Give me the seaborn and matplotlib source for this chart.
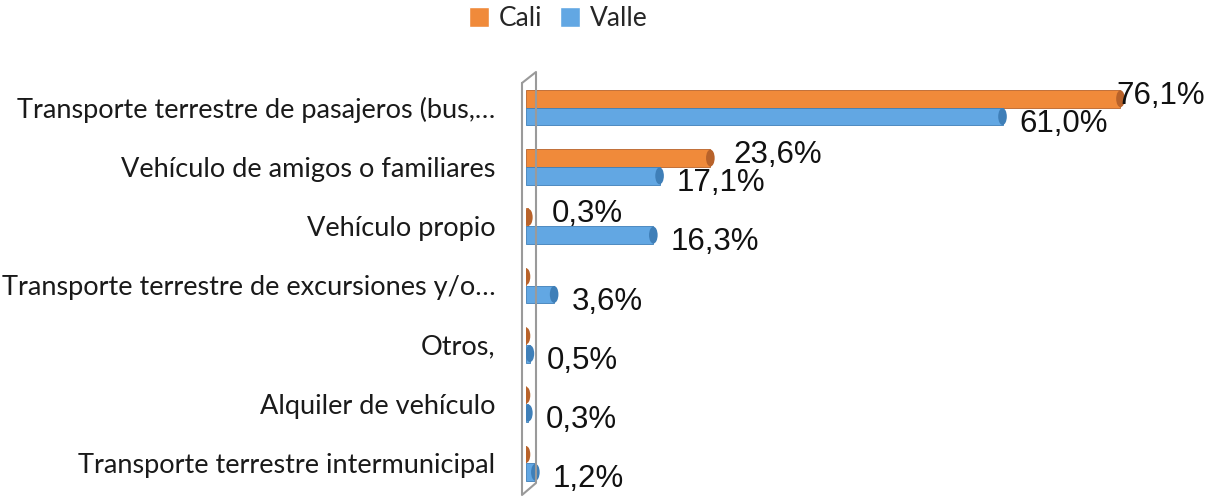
import pandas as pd
import numpy as np
import matplotlib
matplotlib.use("Agg")
import matplotlib.pyplot as plt
import seaborn as sns
from matplotlib.patches import Ellipse, Patch
from matplotlib.lines import Line2D

categorias = [
    "Transporte terrestre de pasajeros (bus,…",
    "Vehículo de amigos o familiares",
    "Vehículo propio",
    "Transporte terrestre de excursiones y/o…",
    "Otros,",
    "Alquiler de vehículo",
    "Transporte terrestre intermunicipal",
]
cali = [76.1, 23.6, 0.3, 0.0, 0.0, 0.0, 0.0]
valle = [61.0, 17.1, 16.3, 3.6, 0.5, 0.3, 1.2]
series = ["Cali", "Valle"]
colores = {"Cali": "#F08A3A", "Valle": "#62A7E3"}
bordes = {"Cali": "#B8622A", "Valle": "#3F7FB8"}

df = pd.DataFrame({
    "categoria": categorias * 2,
    "serie": ["Cali"] * len(cali) + ["Valle"] * len(valle),
    "valor": cali + valle,
})

sns.set_theme(style="white")
plt.rcParams["font.family"] = ["Lato", "DejaVu Sans"]

fig = plt.figure(figsize=(12.06, 4.97), dpi=100)
W, H = 1206, 497
ax = fig.add_axes([526 / W, (H - 493) / H, 664 / W, 415 / H])

sns.barplot(data=df, x="valor", y="categoria", hue="serie", order=categorias,
            hue_order=series, palette=colores, orient="h", width=0.6,
            dodge=True, ax=ax, legend=False, saturation=1)

ax.set_xlim(0, 85)
ax.set_ylim(6.5, -0.5)
for s in ax.spines.values():
    s.set_visible(False)
ax.set_xticks([])
ax.set_xlabel("")
ax.set_ylabel("")
ax.tick_params(axis="y", length=0, pad=22, labelsize=19.5, labelcolor="#1a1a1a")

# end caps + labels
for cont, serie in zip(ax.containers, series):
    for bar, v in zip(cont, cont.datavalues):
        y0, h = bar.get_y(), bar.get_height()
        yc = y0 + h / 2
        bar.set_edgecolor(bordes[serie])
        bar.set_linewidth(0.6)
        cap = Ellipse((v, yc), width=1.1, height=h * 0.95,
                      facecolor=bordes[serie], edgecolor="none", zorder=3)
        ax.add_patch(cap)
        if v > 0:
            if serie == "Cali":
                dy, off = -0.05, 3.0
            else:
                dy, off = 0.12, 2.2
            x = min(v + off, 75.6)
            ax.text(x, yc + dy, f"{v:.1f}%".replace(".", ","),
                    ha="left", va="center", fontsize=22.5,
                    family=["Liberation Sans", "DejaVu Sans"], color="#111111",
                    zorder=4)

# side wall
def px(x, y):
    return (x / W, 1 - y / H)
wall = [(522, 83), (536, 72), (536, 483), (522, 495), (522, 83)]
xs, ys = zip(*[px(a, b) for a, b in wall])
fig.add_artist(Line2D(xs, ys, color="#9a9a9a", lw=1.5, transform=fig.transFigure))

handles = [Patch(facecolor=colores[s], label=s) for s in series]
fig.legend(handles=handles, loc="upper center", bbox_to_anchor=(0.463, 1.035),
           ncol=2, frameon=False, fontsize=19, handlelength=0.75,
           handleheight=0.75, handletextpad=0.35, columnspacing=0.7)

fig.savefig("out.png", dpi=100)
